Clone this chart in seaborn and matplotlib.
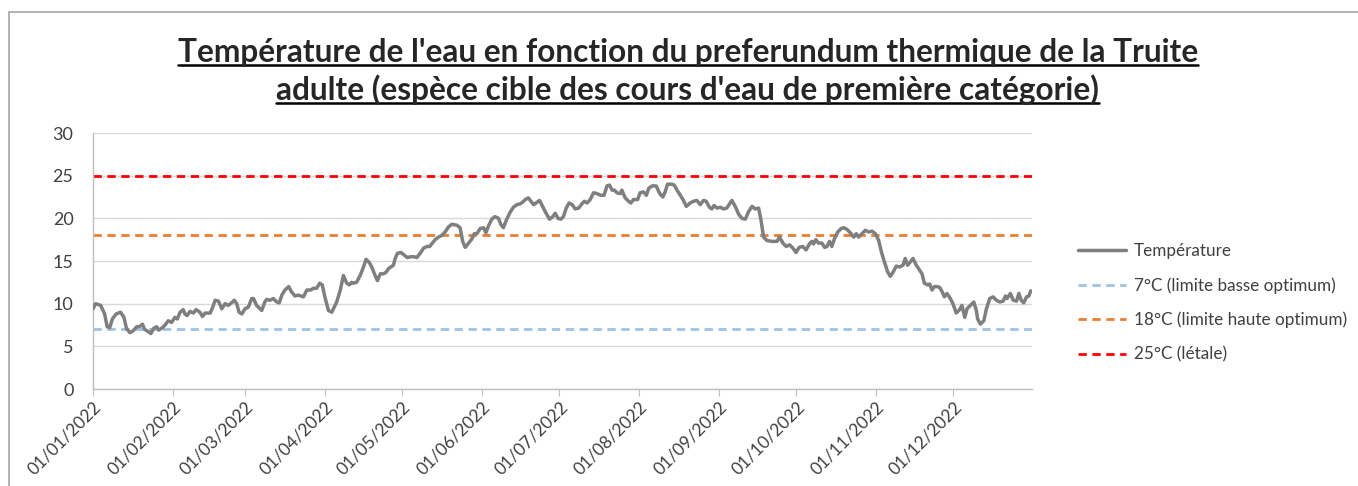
import matplotlib
matplotlib.use('Agg')
import matplotlib.pyplot as plt
import matplotlib.dates as mdates
from matplotlib.lines import Line2D
from matplotlib.patches import Rectangle
import seaborn as sns
import pandas as pd

# Jours depuis le 01/01/2022 et temperature
jours = [0, 1, 3, 4.5, 5.5, 6.5, 7.5, 9, 10.7, 12, 13, 14.3, 15.5, 17, 18, 19.2, 20, 21.5, 22.5, 23.5,
         24.7, 25.5, 27, 28, 29.2, 30.5, 31.8, 32.7, 33.8, 35, 35.7, 36.5, 37.7, 39, 40, 41.5, 42.5, 43.5,
         45.5, 46.5, 47.4, 48.7, 50, 51.3, 52.5, 53.8, 54.8, 55.8, 56.7, 57.8, 59, 60.3, 61.6, 62.3, 63.5,
         65.5, 66.7, 67.4, 68.7, 70, 71.3, 72.3, 73.3, 74.5, 76, 77, 78.4, 79.7, 81.7, 83, 84.5, 85.5, 86.8,
         88, 89, 90, 91.4, 92.7, 94.6, 96, 97.2, 98.5, 99.5, 100.4, 101, 102.3, 103.7, 105, 106, 107.3,
         108.2, 109.5, 110.4, 111.5, 112.8, 113.8, 114.7, 115.6, 116.6, 117.3, 118.2, 119.5, 120.8, 122,
         123.4, 124.6, 125.7, 127, 128.3, 129.6, 130.7, 131.5, 132.8, 134.1, 135.4, 136.7, 138, 139.3,
         141.2, 142.5, 143.5, 144.5, 145.8, 147.1, 148, 149, 150.3, 151.6, 152.5, 153.5, 154.8, 156,
         157.4, 158.3, 159.3, 160.6, 161.9, 163.2, 164.5, 165.8, 166.8, 167.8, 169, 170, 171, 172, 173.3,
         174.2, 175.5, 177.2, 178.5, 179.4, 180.5, 181.6, 182.6, 183.7, 184.8, 186, 187.2, 188.5, 189.8,
         190.7, 191.8, 193, 194.3, 195.6, 197.1, 198.4, 199.5, 200.5, 201.5, 202.4, 203.4, 204.7, 205.3,
         206.6, 207.9, 208.8, 209.8, 211.4, 212.4, 213.7, 214.8, 215.7, 217, 218.6, 220, 221.2, 222.1,
         223, 224.7, 225.6, 226.7, 228, 229.2, 230.3, 231.8, 233.1, 234.4, 235.7, 237, 238, 239.3, 240.2,
         241.1, 242.2, 243.5, 244.8, 246, 248, 249.3, 250.6, 251.9, 253.2, 254.5, 255.8, 257.1, 258.4,
         259.3, 260.3, 261.6, 263.6, 265.5, 266.5, 267.8, 269.1, 270.4, 271.7, 272.9, 274.1, 275.5,
         276.8, 278.1, 279, 279.7, 280.6, 281.6, 282.9, 284, 284.9, 285.9, 286.8, 287.8, 289.1, 290.4,
         291.4, 292.7, 294, 295.3, 296.3, 297.2, 298.5, 299.8, 301.1, 302.4, 303.7, 305, 306, 307.2,
         308.5, 309.5, 310.6, 311.8, 313.1, 314.4, 315.3, 316.2, 317.3, 318.3, 319.6, 320.9, 321.8,
         322.7, 324, 324.8, 325.7, 326.6, 327.6, 328.7, 329.6, 330.5, 331.5, 332.8, 333.8, 335.1, 336.4,
         337.3, 338.4, 339.3, 340.6, 341.9, 342.9, 343.4, 344.5, 345.8, 346.8, 348.1, 349.4, 350.7, 352,
         353.3, 354.2, 354.8, 356.1, 357.2, 358.5, 359.4, 360.3, 361.3, 362.4, 363.3, 364]
temperature = [9.4, 10.0, 9.8, 8.8, 7.3, 7.2, 8.2, 8.8, 9.0, 8.4, 7.1, 6.6, 6.8, 7.3, 7.3, 7.6, 7.0, 6.7, 6.5, 7.1,
               7.3, 6.9, 7.2, 7.5, 8.0, 7.8, 8.4, 8.2, 9.0, 9.3, 8.8, 8.6, 9.1, 8.9, 9.3, 9.0, 8.5, 8.9,
               8.9, 9.6, 10.4, 10.3, 9.4, 10.0, 9.8, 10.1, 10.4, 10.0, 9.0, 8.8, 9.4, 9.6, 10.6, 10.6, 9.8,
               9.2, 10.2, 10.5, 10.4, 10.6, 10.2, 10.1, 11.0, 11.6, 12.0, 11.4, 10.9, 11.0, 10.8, 11.6, 11.6, 11.8, 11.8,
               12.4, 12.2, 10.8, 9.2, 9.0, 10.2, 11.6, 13.3, 12.4, 12.2, 12.5, 12.4, 12.5, 13.3, 14.3, 15.2, 14.8,
               14.3, 13.3, 12.7, 13.5, 13.5, 13.7, 14.1, 14.3, 14.5, 15.3, 15.9, 16.0, 15.7, 15.4,
               15.5, 15.5, 15.4, 15.9, 16.5, 16.7, 16.7, 17.0, 17.5, 17.8, 18.0, 18.4, 19.0, 19.3,
               19.2, 18.9, 17.3, 16.6, 17.1, 17.6, 18.2, 18.2, 18.8, 18.9, 18.3, 19.1, 19.9, 20.2,
               20.0, 19.3, 18.9, 19.9, 20.7, 21.3, 21.6, 21.7, 21.9, 22.2, 22.4, 22.0, 21.6, 21.8, 22.1,
               21.6, 20.8, 19.9, 20.2, 20.6, 20.0, 19.9, 20.2, 21.2, 21.8, 21.6, 21.1, 21.2, 21.7,
               22.0, 21.8, 22.2, 23.0, 22.9, 22.7, 22.7, 23.8, 23.9, 23.3, 23.3, 23.0, 22.9, 23.3,
               22.4, 22.0, 21.8, 22.2, 22.2, 23.0, 23.1, 22.7, 23.5, 23.8, 23.8, 22.9, 22.5, 23.1,
               24.0, 24.0, 23.9, 23.3, 22.7, 22.1, 21.4, 21.8, 22.0, 22.1, 21.6, 22.1, 22.0, 21.3, 21.1,
               21.5, 21.2, 21.3, 21.1, 21.2, 22.1, 21.4, 20.5, 20.0, 19.9, 20.8, 21.4, 21.1, 21.2,
               19.8, 17.8, 17.4, 17.3, 17.3, 17.8, 17.1, 16.7, 16.9, 16.5, 16.0, 16.6, 16.7,
               16.3, 17.0, 17.3, 17.0, 17.5, 17.1, 17.1, 16.6, 16.7, 17.3, 16.7, 17.6, 18.4, 18.8,
               18.9, 18.7, 18.3, 17.8, 18.2, 17.8, 18.2, 18.6, 18.4, 18.5, 18.2, 17.4, 16.1, 14.9,
               13.7, 13.2, 13.7, 14.4, 14.3, 14.5, 15.3, 14.5, 14.9, 15.3, 14.5, 13.9, 13.5,
               12.4, 12.2, 12.3, 11.6, 12.0, 12.0, 11.9, 11.4, 10.8, 11.2, 10.6, 10.0, 8.9, 9.3,
               9.8, 8.4, 9.4, 9.8, 10.2, 9.2, 8.2, 7.6, 8.0, 9.4, 10.6, 10.8, 10.4, 10.2,
               10.3, 10.9, 10.6, 11.2, 10.4, 10.3, 11.2, 10.4, 10.1, 10.8, 10.9, 11.5]

seuils = [7, 18, 25]
seuil_labels = ['7°C (limite basse optimum)', '18°C (limite haute optimum)', '25°C (létale)']
seuil_colors = ['#9dc3e6', '#ed7d31', '#ff0000']

df = pd.DataFrame({'date': pd.Timestamp('2022-01-01') + pd.to_timedelta(jours, unit='D'),
                   'temp': temperature})

sns.set_style('white')
plt.rcParams['font.family'] = ['Lato', 'DejaVu Sans']

fig = plt.figure(figsize=(13.58, 4.86), dpi=100)
ax = fig.add_axes([93 / 1358, 1 - 389 / 486, (1032 - 93) / 1358, (389 - 133) / 486])

# bordure de la zone de graphique
fig.patches.append(Rectangle((9 / 1358, -0.1), 1.2, 1 - 12 / 486 + 0.1, transform=fig.transFigure,
                             fill=False, edgecolor='#a6a6a6', linewidth=1.2))

for s, c in zip(seuils, seuil_colors):
    ax.axhline(s, color=c, linewidth=2, linestyle=(0, (3, 2)), zorder=2)

sns.lineplot(data=df, x='date', y='temp', ax=ax, color='#7f7f7f', linewidth=2.5, zorder=3)

ax.set_ylim(0, 30)
ax.set_yticks(range(0, 31, 5))
ax.set_xlim(pd.Timestamp('2022-01-01'), pd.Timestamp('2022-12-31 12:00'))
ax.xaxis.set_major_locator(mdates.MonthLocator())
ax.xaxis.set_major_formatter(mdates.DateFormatter('%d/%m/%Y'))
ax.set_xlabel('')
ax.set_ylabel('')
ax.grid(axis='y', color='#d9d9d9', linewidth=1)
for side in ['top', 'right']:
    ax.spines[side].set_visible(False)
for side in ['left', 'bottom']:
    ax.spines[side].set_color('#bfbfbf')
    ax.spines[side].set_linewidth(1)
ax.tick_params(axis='x', direction='out', length=5, color='#bfbfbf', labelsize=12.5,
               labelrotation=45, labelcolor='#404040', pad=2, bottom=True)
ax.tick_params(axis='y', length=0, labelsize=13, labelcolor='#404040', pad=14)
for lab in ax.get_xticklabels():
    lab.set_ha('right')
    lab.set_rotation_mode('anchor')

handles = [Line2D([], [], color='#7f7f7f', linewidth=2.5)]
handles += [Line2D([], [], color=c, linewidth=2, linestyle=(0, (3, 2))) for c in seuil_colors]
fig.legend(handles, ['Température'] + seuil_labels, loc='center left',
           bbox_to_anchor=(1078 / 1358, 1 - 303 / 486), frameon=False, fontsize=12.3,
           handlelength=2.8, handletextpad=0.45, labelspacing=1.05, borderpad=0,
           borderaxespad=0, labelcolor='#404040')

# titre souligne, deux lignes
titre = ["Température de l'eau en fonction du preferundum thermique de la Truite",
         "adulte (espèce cible des cours d'eau de première catégorie)"]
ys = [1 - 62 / 486, 1 - 100 / 486]
txts = [fig.text(0.5065, y, t, ha='center', va='baseline', fontsize=22.8, fontweight='bold')
        for t, y in zip(titre, ys)]
fig.canvas.draw()
r = fig.canvas.get_renderer()
for t, y in zip(txts, ys):
    bb = t.get_window_extent(r).transformed(fig.transFigure.inverted())
    fig.add_artist(Line2D([bb.x0, bb.x1], [y - 3 / 486, y - 3 / 486], transform=fig.transFigure,
                          color='black', linewidth=1.8))

fig.savefig('out.png', dpi=100)
